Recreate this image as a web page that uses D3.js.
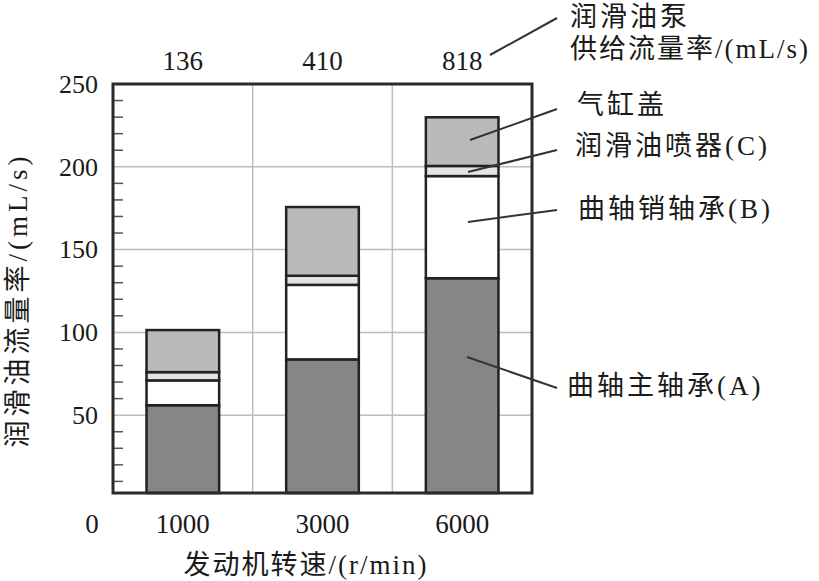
<!DOCTYPE html>
<html>
<head>
<meta charset="utf-8">
<script src="https://cdn.jsdelivr.net/npm/d3@7"></script>
<style>
  html, body { margin: 0; padding: 0; background: #fff; }
  svg { display: block; }
  text { font-family: "Liberation Serif", "Noto Sans CJK SC", serif; fill: #1a1a1a; }
</style>
</head>
<body>
<svg id="chart" width="819" height="581"></svg>
<script>
// ---- data ----
const categories = ["1000", "3000", "6000"];          // engine speed r/min
const pumpSupply = ["136", "410", "818"];             // pump supply rate mL/s
const mainBearingA = [56, 83.7, 132.7];               // 曲轴主轴承(A)
const pinBearingB = [15, 45, 61.7];                   // 曲轴销轴承(B)
const nozzleC = [5, 5.5, 6.1];                        // 润滑油喷器(C)
const cylinderHead = [25.4, 41.5, 29.4];              // 气缸盖
const yTickValues = [50, 100, 150, 200, 250];
const seriesKeys = ["A", "B", "C", "H"];

const table = categories.map((c, i) => ({
  cat: c, A: mainBearingA[i], B: pinBearingB[i], C: nozzleC[i], H: cylinderHead[i]
}));

(function () {
// ---- layout ----
const svg = d3.select("#chart");
const pL = 113, pR = 532, pT = 84, pB = 493;

const x = d3.scaleBand().domain(categories).range([pL, pR])
  .paddingInner(0.48).paddingOuter(0.24);
const y = d3.scaleLinear().domain([3, 250]).range([pB, pT]).clamp(true);

const fills = { A: "#868686", B: "#ffffff", C: "#e4e4e4", H: "#bababa" };

// gridlines
const g = svg.append("g");
g.selectAll("line.hg").data(yTickValues.filter(v => v < 250)).join("line")
  .attr("x1", pL).attr("x2", pR)
  .attr("y1", d => y(d)).attr("y2", d => y(d))
  .attr("stroke", "#bdbdbd").attr("stroke-width", 1.5);
const step = x.step();
g.selectAll("line.vg").data(categories.slice(0, -1)).join("line")
  .attr("x1", d => x(d) + x.bandwidth() + step * 0.24)
  .attr("x2", d => x(d) + x.bandwidth() + step * 0.24)
  .attr("y1", pT).attr("y2", pB)
  .attr("stroke", "#bdbdbd").attr("stroke-width", 1.5);

// minor ticks on left side (inside)
svg.append("g").selectAll("line").data(d3.range(10, 250, 10).filter(v => v % 50 !== 0)).join("line")
  .attr("x1", pL).attr("x2", pL + 10)
  .attr("y1", d => y(d)).attr("y2", d => y(d))
  .attr("stroke", "#555").attr("stroke-width", 1.5);

// stacked bars
const stacked = d3.stack().keys(seriesKeys)(table);
svg.append("g").selectAll("g").data(stacked).join("g")
  .attr("fill", d => fills[d.key])
  .selectAll("rect").data(d => d).join("rect")
  .attr("x", d => x(d.data.cat))
  .attr("width", x.bandwidth())
  .attr("y", d => y(d[1]))
  .attr("height", d => y(d[0]) - y(d[1]))
  .attr("stroke", "#222").attr("stroke-width", 2.5);

// frame
svg.append("rect").attr("x", pL).attr("y", pT)
  .attr("width", pR - pL).attr("height", pB - pT)
  .attr("fill", "none").attr("stroke", "#2a2a2a").attr("stroke-width", 3);

// y axis labels
const yAxis = svg.append("g").attr("transform", `translate(${pL},0)`)
  .call(d3.axisLeft(y).tickValues(yTickValues).tickSize(0).tickPadding(15));
yAxis.select(".domain").remove();
yAxis.selectAll("text").style("font-size", "26px")
  .style("font-family", "'Liberation Serif', serif").attr("fill", "#1a1a1a");

// x axis labels
const xAxis = svg.append("g").attr("transform", `translate(0,${pB})`)
  .call(d3.axisBottom(x).tickSize(0).tickPadding(21));
xAxis.select(".domain").remove();
xAxis.selectAll("text").style("font-size", "27px")
  .style("font-family", "'Liberation Serif', serif").attr("fill", "#1a1a1a");
svg.append("text").attr("x", 92).attr("y", 533).attr("text-anchor", "middle")
  .style("font-size", "27px").text("0");

// top labels (pump supply)
const tAxis = svg.append("g").attr("transform", `translate(0,${pT})`)
  .call(d3.axisTop(x).tickSize(0).tickPadding(14)
    .tickFormat((d, i) => pumpSupply[i]));
tAxis.select(".domain").remove();
tAxis.selectAll("text").style("font-size", "27px")
  .style("font-family", "'Liberation Serif', serif").attr("fill", "#1a1a1a");

// axis titles
svg.append("text").attr("transform", "translate(27,300) rotate(-90)")
  .attr("text-anchor", "middle").style("font-size", "27px")
  .style("letter-spacing", "4px")
  .text("润滑油流量率/(mL/s)");
svg.append("text").attr("x", 306).attr("y", 574)
  .attr("text-anchor", "middle").style("font-size", "27px")
  .style("letter-spacing", "2px")
  .text("发动机转速/(r/min)");

// annotations
const ann = [
  { text: "气缸盖", x1: 470, y1: 140, x2: 557, y2: 109, tx: 577, ty: 114 },
  { text: "润滑油喷器(C)", x1: 468, y1: 172, x2: 557, y2: 150, tx: 575, ty: 155 },
  { text: "曲轴销轴承(B)", x1: 468, y1: 222, x2: 557, y2: 210, tx: 578, ty: 218 },
  { text: "曲轴主轴承(A)", x1: 467, y1: 357, x2: 557, y2: 388, tx: 567, ty: 395 }
];
const ag = svg.append("g");
ag.selectAll("line").data(ann).join("line")
  .attr("x1", d => d.x1).attr("y1", d => d.y1)
  .attr("x2", d => d.x2).attr("y2", d => d.y2)
  .attr("stroke", "#333").attr("stroke-width", 2);
ag.selectAll("text").data(ann).join("text")
  .attr("x", d => d.tx).attr("y", d => d.ty)
  .style("font-size", "27px").style("letter-spacing", "3px")
  .text(d => d.text);

// pump supply annotation
svg.append("line").attr("x1", 490).attr("y1", 55).attr("x2", 557).attr("y2", 18)
  .attr("stroke", "#333").attr("stroke-width", 2);
svg.append("text").attr("x", 570).attr("y", 26).style("font-size", "27px")
  .style("letter-spacing", "3px").text("润滑油泵");
svg.append("text").attr("x", 570).attr("y", 58).style("font-size", "27px")
  .style("letter-spacing", "2px").text("供给流量率/(mL/s)");
})();
</script>
</body>
</html>
